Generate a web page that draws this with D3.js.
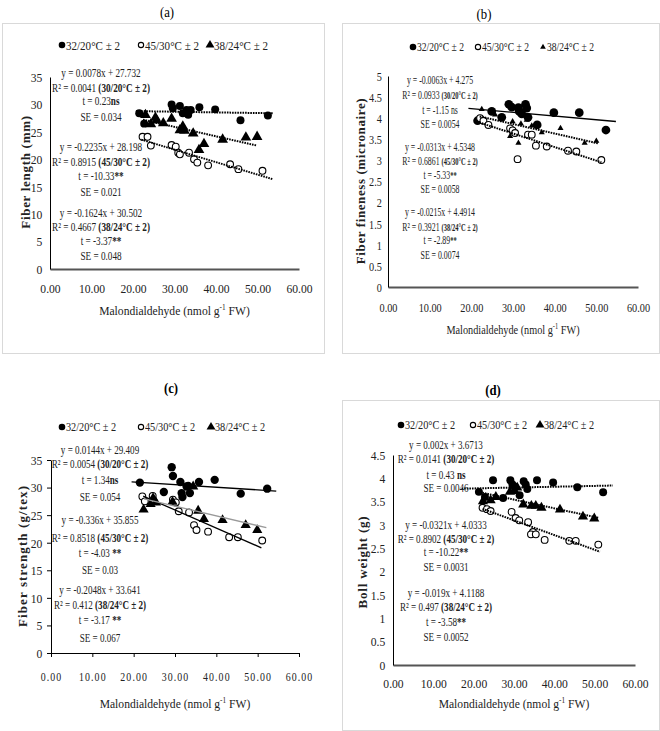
<!DOCTYPE html>
<html>
<head>
<meta charset="utf-8">
<script src="https://cdn.jsdelivr.net/npm/d3@7"></script>
<style>
  body { margin: 0; background: #fff; }
  svg { display: block; font-family: "Liberation Serif", "Times New Roman", serif; }
</style>
</head>
<body>
<svg id="chart" width="660" height="731"></svg>
<script>
// shared
const xTicks = [0, 10, 20, 30, 40, 50, 60];
const legendLabels = ["32/20°C ± 2", "45/30°C ± 2", "38/24°C ± 2"];
const xTitle = "Malondialdehyde (nmol g";

// (a) fiber length (mm)  [MDA, value]
const lenCool = [[21.5, 28.4], [22.7, 26.5], [29.3, 30.0], [29.6, 29.3], [31.3, 29.7], [32.0, 28.4], [32.9, 29.0],
  [33.3, 28.1], [33.9, 29.0], [36.0, 29.5], [39.8, 29.1], [45.9, 27.1], [52.5, 28.0]];
const lenHot = [[22.3, 24.1], [23.5, 24.1], [24.3, 22.5], [29.3, 22.6], [30.3, 22.3], [30.9, 21.2], [31.3, 20.9],
  [33.5, 21.2], [34.7, 20.0], [35.5, 19.4], [38.1, 18.9], [43.4, 19.1], [45.4, 18.2], [51.2, 17.9]];
const lenMid = [[23.0, 28.1], [24.3, 26.4], [25.4, 27.6], [25.7, 27.1], [27.3, 26.6], [29.3, 27.4], [31.3, 25.3],
  [32.0, 26.0], [32.4, 25.2], [34.5, 24.7], [35.9, 21.7], [37.1, 22.8], [41.6, 23.6], [47.2, 24.0], [49.9, 24.1]];
const lenTicks = [0, 5, 10, 15, 20, 25, 30, 35];
const lenSpans = [[20.7, 53.7], [22, 53.8], [22.4, 49.9]];
const lenNotes = [
  [["y = 0.0078x + 27.732"]], [["R² = 0.0041 "], ["(30/20°C ± 2)", 1]], [["t = 0.23"], ["ns", 1]], [["SE = 0.034"]],
  [["y = -0.2235x + 28.198"]], [["R² = 0.8915 "], ["(45/30°C ± 2)", 1]], [["t = -10.33"], ["**", 1]], [["SE = 0.021"]],
  [["y = -0.1624x + 30.502"]], [["R² = 0.4667 "], ["(38/24°C ± 2)", 1]], [["t = -3.37"], ["**", 1]], [["SE = 0.048"]]
];

// (b) fiber fineness (micronaire)
const finCool = [[21.5, 3.94], [24.9, 4.16], [27.3, 4.02], [29.0, 4.33], [29.7, 4.26], [31.3, 4.25], [31.5, 4.16],
  [32.1, 4.10], [33.0, 4.33], [33.3, 4.24], [33.6, 4.02], [35.8, 3.84], [39.8, 4.13], [45.9, 4.13], [52.3, 3.72]];
const finHot = [[22.1, 4.0], [22.9, 3.94], [24.1, 3.84], [29.3, 3.76], [29.9, 3.71], [30.5, 3.65], [31.1, 3.03],
  [33.6, 3.61], [34.5, 3.61], [35.5, 3.35], [38.1, 3.33], [43.2, 3.23], [45.2, 3.21], [51.2, 3.01]];
const finMid = [[22.5, 4.21], [25.7, 4.08], [29.3, 3.57], [29.9, 3.92], [31.3, 3.41], [31.9, 3.87], [33.3, 3.96],
  [34.5, 3.82], [36.9, 3.66], [41.4, 3.76], [47.2, 3.41], [50.0, 3.46]];
const finTicks = [0, 0.5, 1, 1.5, 2, 2.5, 3, 3.5, 4, 4.5, 5];
const finSpans = [[19.3, 54.7], [21.3, 51.2], [22, 50.4]];
const finNotes = [
  [["y = -0.0063x + 4.275"]], [["R² = 0.0933 "], ["(30/20°C ± 2)", 1]], [["t = -1.15 ns"]], [["SE = 0.0054"]],
  [["y = -0.0313x + 4.5348"]], [["R² = 0.6861 "], ["(45/30°C ± 2)", 1]], [["t = -5.33"], ["**", 1]], [["SE = 0.0058"]],
  [["y = -0.0215x + 4.4914"]], [["R² = 0.3921 "], ["(38/24°C ± 2)", 1]], [["t = -2.89"], ["**", 1]], [["SE = 0.0074"]]
];

// (c) fiber strength (g/tex)
const strCool = [[21.5, 30.9], [29.2, 33.7], [29.5, 32.1], [31.3, 31.0], [27.3, 29.2], [31.6, 29.0], [32.8, 30.2],
  [33.2, 30.3], [33.6, 29.0], [31.8, 28.3], [35.8, 31.0], [39.6, 31.4], [45.9, 28.9], [52.3, 29.8]];
const strHot = [[22.1, 28.4], [22.7, 27.5], [24.6, 28.5], [29.5, 27.8], [30.2, 27.3], [30.9, 25.7], [33.4, 25.5],
  [34.6, 23.2], [35.2, 22.3], [38.0, 22.0], [43.1, 21.0], [45.2, 21.0], [51.1, 20.4]];
const strMid = [[22.4, 26.0], [24.1, 27.0], [25.4, 27.3], [24.7, 28.1], [29.4, 27.4], [34.4, 30.2], [35.6, 25.8],
  [37.0, 24.3], [41.5, 24.1], [47.1, 23.2], [49.9, 22.3]];
const strTicks = [0, 5, 10, 15, 20, 25, 30, 35];
const strSpans = [[19.5, 54.5], [22.3, 50.9], [22.5, 52.1]];
const strNotes = [
  [["y = 0.0144x + 29.409"]], [["R² = 0.0054 "], ["(30/20°C ± 2)", 1]], [["t = 1.34"], ["ns", 1]], [["SE = 0.054"]],
  [["y = -0.336x + 35.855"]], [["R² = 0.8518 "], ["(45/30°C ± 2)", 1]], [["t = -4.03 "], ["**", 1]], [["SE = 0.03"]],
  [["y = -0.2048x + 33.641"]], [["R² = 0.412 "], ["(38/24°C ± 2)", 1]], [["t = -3.17 "], ["**", 1]], [["SE = 0.067"]]
];

// (d) boll weight (g)
const bollCool = [[24.8, 3.96], [21.3, 3.71], [22.8, 3.60], [27.3, 3.58], [29.1, 3.96], [29.6, 3.87], [30.2, 3.82],
  [31.4, 3.64], [32.4, 3.94], [32.9, 3.87], [33.3, 3.77], [35.7, 3.96], [39.7, 3.91], [45.7, 3.81], [52.1, 3.70]];
const bollHot = [[22.2, 3.37], [23.3, 3.34], [24.2, 3.30], [29.4, 3.28], [30.4, 3.15], [31.3, 3.10], [33.5, 3.06],
  [34.7, 2.85], [34.2, 2.80], [35.4, 2.80], [37.6, 2.68], [43.7, 2.66], [45.3, 2.66], [50.9, 2.58]];
const bollMid = [[22.3, 3.51], [24.2, 3.53], [25.5, 3.60], [29.0, 3.71], [30.2, 3.73], [30.8, 3.80], [32.3, 3.44],
  [34.3, 3.41], [35.4, 3.41], [36.8, 3.37], [41.4, 3.33], [47.1, 3.18], [49.9, 3.14]];
const bollTicks = [0, 0.5, 1, 1.5, 2, 2.5, 3, 3.5, 4, 4.5];
const bollSpans = [[17, 54.5], [22.2, 51.3], [21.5, 50.9]];
const bollNotes = [
  [["y = 0.002x + 3.6713"]], [["R² = 0.0141 "], ["(30/20°C ± 2)", 1]], [["t = 0.43 "], ["ns", 1]], [["SE = 0.0046"]],
  [["y = -0.0321x + 4.0333"]], [["R² = 0.8902 "], ["(45/30°C ± 2)", 1]], [["t = -10.22"], ["**", 1]], [["SE = 0.0031"]],
  [["y = -0.019x + 4.1188"]], [["R² = 0.497 "], ["(38/24°C ± 2)", 1]], [["t = -3.58"], ["**", 1]], [["SE = 0.0052"]]
];

// layout of the four panels
const panels = [
  { label: "(a)", bold: false, labelAt: [167, 12], frame: [2, 23, 322, 330],
    xr: [50, 299], yr: [269, 77], yMax: 35, yTicks: lenTicks, yTitle: "Fiber length (mm)", yTitleAt: [25, 172], ySpacing: 0.7,
    xTitleY: 310, tickMarks: false, xPad: 14, yPad: 9,
    legendY: 45, legendX: [62, 141, 210], legendFont: 13, legendSc: 0.85,
    notes: lenNotes, noteX: 101, noteY: [73, 88, 101, 117, 147, 162, 176, 192, 213, 227, 241, 256], noteSc: 0.8, boldSize: 11.5,
    series: [lenCool, lenHot, lenMid], spans: lenSpans, sizes: [50, 36, 50], textSc: 0.86,
    lineStyle: [["#000", "1.6,1"], ["#000", "1.6,1"], ["#000", "1.6,1"]] },
  { label: "(b)", bold: false, labelAt: [484, 14], frame: [342, 23, 317, 330],
    xr: [388, 638], yr: [287, 76], yMax: 5, yTicks: finTicks, yTitle: "Fiber fineness (micronaire)", yTitleAt: [360, 181], ySpacing: 0.6,
    xTitleY: 329, tickMarks: false, xPad: 15, yPad: 8,
    legendY: 47, legendX: [413, 478, 543], legendFont: 12, legendSc: 0.8,
    notes: finNotes, noteX: 440, noteY: [80, 95, 110, 124, 147, 161, 175, 189, 212, 227, 240, 255], noteSc: 0.68, boldSize: 9.5,
    series: [finCool, finHot, finMid], spans: finSpans, sizes: [60, 36, 16], textSc: 0.76,
    lineStyle: [["#000", null], ["#000", "1.6,1"], ["#000", "1.6,1"]] },
  { label: "(c)", bold: true, labelAt: [171, 388], frame: null,
    xr: [51, 299], yr: [653, 460], yMax: 35, yTicks: strTicks, yTitle: "Fiber strength (g/tex)", yTitleAt: [22, 556], ySpacing: 1.1,
    xTitleY: 703, tickMarks: true, xPad: 14, yPad: 6,
    legendY: 427, legendX: [62, 141, 211], legendFont: 12.5, legendSc: 0.82,
    notes: strNotes, noteX: 100, noteY: [450, 464, 480, 497, 520, 538, 553, 570, 590, 605, 620, 638], noteSc: 0.79, boldSize: 11.5,
    series: [strCool, strHot, strMid], spans: strSpans, sizes: [55, 36, 45], textSc: 0.86,
    lineStyle: [["#000", null], ["#000", null], ["#999", null]] },
  { label: "(d)", bold: true, labelAt: [493, 390], frame: [342, 400, 317, 330],
    xr: [393, 635], yr: [665, 455], yMax: 4.5, yTicks: bollTicks, yTitle: "Boll weight (g)", yTitleAt: [362, 562], ySpacing: 0.8,
    xTitleY: 703, tickMarks: false, xPad: 13, yPad: 9,
    legendY: 425, legendX: [401, 473, 540], legendFont: 12.5, legendSc: 0.82,
    notes: bollNotes, noteX: 446, noteY: [445, 459, 475, 488, 525, 539, 552, 567, 593, 607, 622, 637], noteSc: 0.79, boldSize: 11.5,
    series: [bollCool, bollHot, bollMid], spans: bollSpans, sizes: [50, 36, 45], textSc: 0.86,
    lineStyle: [["#000", "1.6,1"], ["#000", "1.6,1"], ["#000", "1.6,1"]] }
];

const svg = d3.select("#chart");
svg.append("rect").attr("width", 660).attr("height", 731).attr("fill", "#fff");

// least squares line, like the Excel trendline
function fit(pts) {
  const mx = d3.mean(pts, (d) => d[0]);
  const my = d3.mean(pts, (d) => d[1]);
  const b = d3.sum(pts, (d) => (d[0] - mx) * (d[1] - my)) / d3.sum(pts, (d) => (d[0] - mx) ** 2);
  return [b, my - b * mx];
}

function drawMarker(sel, i, size) {
  const shape = i === 2 ? d3.symbolTriangle : d3.symbolCircle;
  sel.attr("d", d3.symbol(shape, size))
    .attr("fill", i === 1 ? "#fff" : "#000")
    .attr("stroke", i === 1 ? "#000" : "none")
    .attr("stroke-width", 1.1);
}

function drawPanel(p) {
  const g = svg.append("g");

  if (p.frame) {
    g.append("rect")
      .attr("x", p.frame[0] + 0.5).attr("y", p.frame[1] + 0.5)
      .attr("width", p.frame[2]).attr("height", p.frame[3])
      .attr("fill", "none").attr("stroke", "#d9d9d9");
  }

  g.append("text")
    .attr("transform", `translate(${p.labelAt[0]},${p.labelAt[1]}) scale(0.85,1)`)
    .attr("text-anchor", "middle").attr("dy", "0.35em")
    .attr("font-size", 15).attr("font-weight", p.bold ? "bold" : "normal")
    .text(p.label);

  const x = d3.scaleLinear().domain([0, 60]).range(p.xr);
  const y = d3.scaleLinear().domain([0, p.yMax]).range(p.yr);

  // axes
  const xAxis = d3.axisBottom(x).tickValues(xTicks).tickFormat(d3.format(".2f"))
    .tickSize(p.tickMarks ? 4 : 0).tickSizeOuter(0).tickPadding(p.xPad);
  const yAxis = d3.axisLeft(y).tickValues(p.yTicks).tickFormat((d) => String(d))
    .tickSize(p.tickMarks ? 4 : 0).tickSizeOuter(0).tickPadding(p.yPad);

  const gx = g.append("g").attr("transform", `translate(0,${p.yr[0]})`).call(xAxis);
  const gy = g.append("g").attr("transform", `translate(${p.xr[0]},0)`).call(yAxis);
  [gx, gy].forEach((ax) => {
    ax.attr("font-family", null).attr("font-size", 13.5);
    ax.selectAll("text").attr("fill", "#222").attr("transform", `scale(${p.textSc},1)`);
    ax.selectAll(".tick line").attr("stroke", "#000");
  });
  if (p.tickMarks) {
    gx.selectAll("text").attr("letter-spacing", 1.5).attr("transform", `scale(${p.textSc * 0.85},1)`);
    gx.select(".domain").attr("stroke", "#000").attr("stroke-width", 1.2);
  } else {
    gx.select(".domain").attr("stroke", "#555").attr("stroke-width", 2);
  }
  gy.select(".domain").attr("stroke", "#000").attr("stroke-width", 1);

  // axis titles
  const xt = g.append("text")
    .attr("transform", `translate(${(p.xr[0] + p.xr[1]) / 2},${p.xTitleY}) scale(${p.textSc},1)`)
    .attr("text-anchor", "middle").attr("dy", "0.35em").attr("font-size", 13.5).attr("fill", "#222");
  xt.append("tspan").text(xTitle);
  xt.append("tspan").attr("font-size", 8.5).attr("dy", -5).text("-1");
  xt.append("tspan").attr("dy", 5).text(" FW)");

  g.append("text")
    .attr("transform", `translate(${p.yTitleAt[0]},${p.yTitleAt[1]}) rotate(-90)`)
    .attr("text-anchor", "middle").attr("dy", "0.35em")
    .attr("font-size", 13).attr("font-weight", "bold").attr("letter-spacing", p.ySpacing)
    .attr("fill", "#222")
    .text(p.yTitle);

  // legend
  legendLabels.forEach((lab, i) => {
    const lg = g.append("g").attr("transform", `translate(${p.legendX[i]},${p.legendY})`);
    lg.append("path").call(drawMarker, i, i === 1 ? 22 : (i === 2 && p.sizes[2] < 20 ? 14 : 34));
    lg.append("text")
      .attr("transform", `translate(4,0) scale(${p.legendSc},1)`)
      .attr("dy", "0.35em").attr("font-size", p.legendFont).attr("fill", "#222")
      .text(lab);
  });

  // points
  p.series.forEach((pts, i) => {
    g.append("g").selectAll("path").data(pts).join("path")
      .attr("transform", (d) => `translate(${x(d[0])},${y(d[1])})`)
      .call(drawMarker, i, p.sizes[i]);
  });

  // trendlines
  p.series.forEach((pts, i) => {
    const [b, a] = fit(pts);
    const span = p.spans[i];
    const line = d3.line().x((d) => x(d)).y((d) => y(a + b * d));
    g.append("path").datum(span)
      .attr("d", line)
      .attr("fill", "none")
      .attr("stroke", p.lineStyle[i][0])
      .attr("stroke-width", p.lineStyle[i][1] ? 2 : 1.3)
      .attr("stroke-dasharray", p.lineStyle[i][1]);
  });

  // regression notes
  p.notes.forEach((segs, k) => {
    const t = g.append("text")
      .attr("transform", `translate(${p.noteX},${p.noteY[k]}) scale(${p.noteSc},1)`)
      .attr("text-anchor", "middle").attr("dy", "0.35em")
      .attr("font-size", 11.5).attr("fill", "#222");
    segs.forEach(([s, bold]) => {
      t.append("tspan").attr("font-weight", bold ? "bold" : "normal")
        .attr("font-size", bold ? p.boldSize : null).text(s);
    });
  });
}

panels.forEach(drawPanel);
</script>
</body>
</html>
